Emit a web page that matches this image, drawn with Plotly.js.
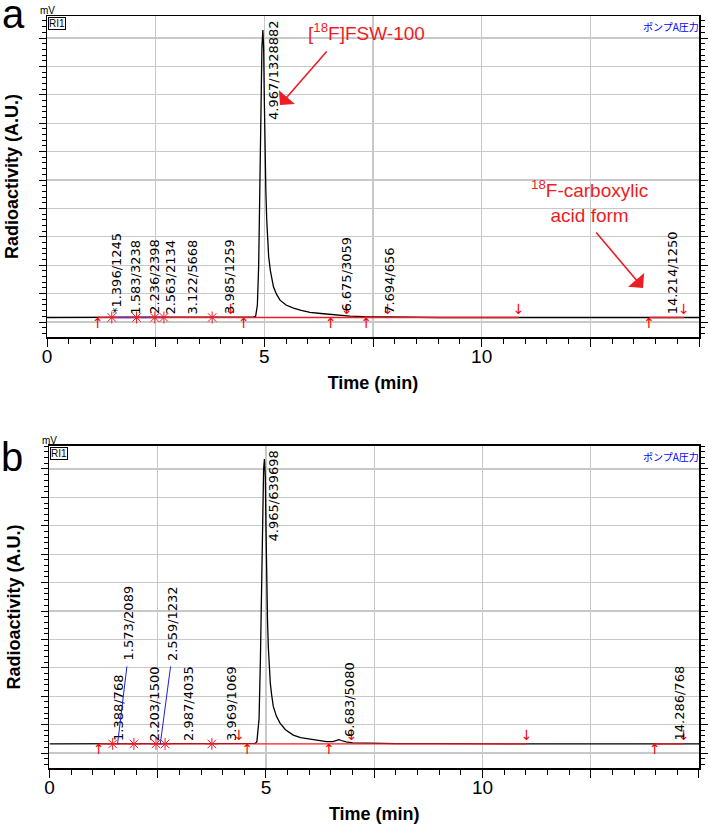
<!DOCTYPE html>
<html><head><meta charset="utf-8">
<script src="https://cdn.plot.ly/plotly-3.0.1.min.js"></script>
<style>html,body{margin:0;padding:0;background:#fff}#chart{width:708px;height:826px}</style>
</head><body><div id="chart"></div>
<script>
// ---- Panel a chromatogram (time in min, signal in grid units) ----
const timeA = [0,1,2,3,4,4.6,4.75,4.8,4.84,4.87,4.895,4.92,4.945,4.967,4.985,5.0,5.015,5.035,5.055,5.075,5.1,5.14,5.21,5.28,5.36,5.5,5.67,5.85,6.05,6.3,6.51,6.75,6.97,7.3,7.7,8.2,9,10,11,12,13,14,15];
const signalA = [0.16,0.16,0.17,0.17,0.17,0.17,0.18,0.2,0.6,2.0,4.6,7.6,9.7,10.28,9.6,7.8,6.0,4.6,3.6,2.9,2.3,1.8,1.24,0.98,0.77,0.6,0.49,0.41,0.34,0.3,0.27,0.24,0.21,0.19,0.18,0.17,0.16,0.16,0.16,0.16,0.16,0.16,0.16];
const peakTimesA = [1.396,1.583,2.236,2.563,3.122,3.985,4.967,6.675,7.694,14.214];
const peakAreasA = [1245,3238,2398,2134,5668,1259,1328882,3059,656,1250];
const peakPrefixA = ['*','','','','','','','','',''];
const markTimesA = [1.17,1.49,2.06,2.48,2.69,3.80,4.23,4.53,6.53,6.90,7.35,7.84,10.85,13.85,14.65];
const markTypesA = ['up','star','star','star','star','star','down','up','up','down','up','down','down','up','down'];

// ---- Panel b chromatogram ----
const timeB = [0,1,2,3,4,4.6,4.75,4.79,4.84,4.87,4.895,4.92,4.945,4.965,4.985,5.0,5.015,5.035,5.055,5.075,5.1,5.13,5.17,5.24,5.32,5.45,5.63,5.8,6.02,6.2,6.4,6.55,6.63,6.683,6.74,6.85,7.0,7.4,8,9,10,11,12,13,14,15];
const signalB = [0.32,0.32,0.32,0.33,0.33,0.33,0.34,0.4,1.2,3.2,5.6,8.4,10.0,10.35,9.7,7.9,6.1,4.7,3.7,3.0,2.45,2.05,1.63,1.3,1.06,0.82,0.63,0.54,0.49,0.44,0.40,0.40,0.44,0.47,0.44,0.39,0.36,0.34,0.33,0.33,0.32,0.32,0.32,0.32,0.32,0.32];
const peakTimesB = [1.388,1.573,2.203,2.559,2.987,3.969,4.965,6.683,14.286];
const peakAreasB = [768,2089,1500,1232,4035,1069,639698,5080,768];
const peakPrefixB = ['','','','','','','','',''];
const markTimesB = [1.14,1.46,1.95,2.46,2.67,3.75,4.38,4.57,6.46,6.98,11.02,13.98,14.65];
const markTypesB = ['up','star','star','star','star','star','down','up','up','down','down','up','down'];

const xTickVals = [0,2.5,5,7.5,10,12.5,15];
const xTickText = ['0','','5','','10','','15'];

// ---- styling (layout only) ----
const labelShiftA = [9.5,20,11,12.5,10,9,10,9,8.5,8.5];
const labelShiftB = [9.5,10.5,9,11.5,9,9.5,9.5,10,11];
const labelLiftB  = [0,80,0,80,0,0,0,0,0];
const RED = '#ee1c24';
const SANS = '"Liberation Sans", Arial, sans-serif';

function interp(ts, vs, t){
  for(let i=1;i<ts.length;i++){
    if(t<=ts[i]){const f=(t-ts[i-1])/(ts[i]-ts[i-1]);return vs[i-1]+f*(vs[i]-vs[i-1]);}
  }
  return vs[vs.length-1];
}

const traces=[];
const annotations=[];

function panel(ax, ts, vs, pT, pA, pP, mT, mTy, shifts, lifts, segEnds, purple){
  const xa = ax===1?'x':'x2', ya = ax===1?'y':'y2';
  const base = vs[0];
  traces.push({x:ts,y:vs,xaxis:xa,yaxis:ya,type:'scatter',mode:'lines',line:{color:'#000',width:1.3},hoverinfo:'skip'});
  segEnds.forEach(([a,b])=>{
    const xs=mT.slice(a,b+1);
    traces.push({x:xs,y:xs.map(()=>base),xaxis:xa,yaxis:ya,type:'scatter',mode:'lines',line:{color:RED,width:1.3},hoverinfo:'skip'});
  });
  if(purple){
    traces.push({x:[mT[purple[0]],mT[purple[1]]],y:[base,base],xaxis:xa,yaxis:ya,type:'scatter',mode:'lines',line:{color:'#6a30c0',width:1.3},hoverinfo:'skip'});
  }
  const star = mT.filter((t,i)=>mTy[i]==='star');
  traces.push({x:star,y:star.map(()=>base),xaxis:xa,yaxis:ya,type:'scatter',mode:'markers',marker:{symbol:'asterisk-open',size:10,color:RED,line:{color:RED,width:1}},hoverinfo:'skip'});
  const up = mT.filter((t,i)=>mTy[i]==='up');
  traces.push({x:up,y:up.map(()=>base),xaxis:xa,yaxis:ya,type:'scatter',mode:'text',text:up.map(()=>'↑'),textposition:'bottom center',textfont:{color:'#ff0000',size:14,family:'DejaVu Sans'},hoverinfo:'skip'});
  const dn = mT.filter((t,i)=>mTy[i]==='down');
  traces.push({x:dn,y:dn.map(()=>base),xaxis:xa,yaxis:ya,type:'scatter',mode:'text',text:dn.map(()=>'↓'),textposition:'top center',textfont:{color:'#ff0000',size:14,family:'DejaVu Sans'},hoverinfo:'skip'});
  const main = pA.indexOf(Math.max(...pA));
  pT.forEach((t,i)=>{
    const txt = pP[i]+t.toFixed(3)+'/'+pA[i];
    const a = {xref:xa,x:t,text:txt,textangle:-90,showarrow:false,xanchor:'center',xshift:shifts[i],
      font:{family:'DejaVu Sans',size:13,color:'#000'},borderpad:0};
    if(i===main){ a.yref=ya+' domain'; a.y=1; a.yanchor='top'; a.yshift=-3; }
    else { a.yref=ya; a.y=interp(ts,vs,t); a.yanchor='bottom'; a.yshift=2+(lifts?lifts[i]:0); }
    annotations.push(a);
    if(lifts && lifts[i]>0){
      annotations.push({xref:xa,yref:ya,x:t,y:base,text:'',showarrow:true,arrowhead:0,arrowwidth:1,arrowcolor:'#1f1fd0',
        ax:shifts[i]-1,ay:-(lifts[i]-1),standoff:0,startstandoff:0});
    }
  });
  annotations.push({xref:xa+' domain',yref:ya+' domain',x:0,y:1,xanchor:'center',yanchor:'bottom',yshift:-2,text:'mV',showarrow:false,font:{family:SANS,size:10,color:'#000'}});
  annotations.push({xref:xa+' domain',yref:ya+' domain',x:0,y:1,xanchor:'left',yanchor:'top',xshift:1,yshift:-1,text:'RI1',showarrow:false,
    font:{family:SANS,size:10,color:'#000'},bordercolor:'#000',borderwidth:1,borderpad:0,bgcolor:'#fff'});
  annotations.push({xref:xa+' domain',yref:ya+' domain',x:1,y:1,xanchor:'right',yanchor:'top',xshift:2,yshift:-1,text:'ポンプA圧力',showarrow:false,
    font:{family:'"Noto Sans CJK JP", sans-serif',size:10,color:'#0000ff'}});
}

panel(1,timeA,signalA,peakTimesA,peakAreasA,peakPrefixA,markTimesA,markTypesA,labelShiftA,null,[[0,12],[13,14]],[1,4]);
panel(2,timeB,signalB,peakTimesB,peakAreasB,peakPrefixB,markTimesB,markTypesB,labelShiftB,labelLiftB,[[0,10],[11,12]],null);

annotations.push({xref:'x',yref:'y',x:7.36,y:10.21,text:'[<sup>18</sup>F]FSW-100',showarrow:false,font:{family:SANS,size:19,color:RED}});
annotations.push({xref:'x',yref:'y',x:5.36,y:7.64,ax:48,ay:-55,text:'',showarrow:true,arrowhead:1,arrowsize:2.2,arrowwidth:1.6,arrowcolor:RED,standoff:0});
annotations.push({xref:'x',yref:'y',x:12.49,y:4.23,text:'<sup>18</sup>F-carboxylic<br>acid form',showarrow:false,font:{family:SANS,size:19,color:RED}});
annotations.push({xref:'x',yref:'y',x:13.71,y:1.20,ax:-48,ay:-57,text:'',showarrow:true,arrowhead:1,arrowsize:2.2,arrowwidth:1.6,arrowcolor:RED,standoff:0});
annotations.push({xref:'paper',yref:'paper',x:(1-47)/652,y:(768-14)/752,text:'a',showarrow:false,xanchor:'left',yanchor:'middle',borderpad:0,font:{family:SANS,size:40,color:'#000'}});
annotations.push({xref:'paper',yref:'paper',x:(0-47)/652,y:(768-457)/752,text:'b',showarrow:false,xanchor:'left',yanchor:'middle',borderpad:0,font:{family:SANS,size:40,color:'#000'}});

function xAxis(domain, anchor){
  return {domain:domain,anchor:anchor,range:[0,15],tickmode:'array',tickvals:xTickVals,ticktext:xTickText,
    ticks:'outside',ticklen:8,tickwidth:1,tickcolor:'#000',showgrid:true,gridcolor:'#c8c8c8',gridwidth:1.3,zeroline:false,
    showline:true,linecolor:'#000',linewidth:1.5,mirror:true,ticklabelstandoff:-6,
    minor:{tickmode:'linear',tick0:0,dtick:0.5,ticks:'outside',ticklen:5,tickwidth:1,tickcolor:'#000',showgrid:false},
    tickfont:{family:SANS,size:19,color:'#000'},
    title:{text:'Time (min)',standoff:10,font:{family:SANS,size:18,color:'#000',weight:'bold'}}};
}
function yAxis(domain, anchor, range){
  return {domain:domain,anchor:anchor,range:range,tickmode:'linear',tick0:0,dtick:1,showticklabels:false,
    ticks:'outside',ticklen:7,tickwidth:1,tickcolor:'#000',showgrid:true,gridcolor:'#c8c8c8',gridwidth:1.3,zeroline:false,
    showline:true,linecolor:'#000',linewidth:1.5,mirror:'ticks',
    minor:{tickmode:'linear',tick0:0,dtick:0.2,ticks:'outside',ticklen:4,tickwidth:1,tickcolor:'#000',showgrid:false},
    title:{text:'Radioactivity (A.U.)',standoff:15,font:{family:SANS,size:18,color:'#000',weight:'bold'}}};
}

const layout={
  width:708,height:826,margin:{l:47,r:9,t:16,b:58},paper_bgcolor:'#fff',plot_bgcolor:'#fff',showlegend:false,
  xaxis:xAxis([0,1],'y'),
  yaxis:yAxis([0.5731,1],'x',[-0.528,10.775]),
  xaxis2:xAxis([0.0038,1],'y2'),
  yaxis2:yAxis([0,0.4282],'x2',[-0.528,10.81]),
  annotations:annotations
};
Plotly.newPlot('chart',traces,layout,{staticPlot:true,displayModeBar:false});
</script></body></html>
